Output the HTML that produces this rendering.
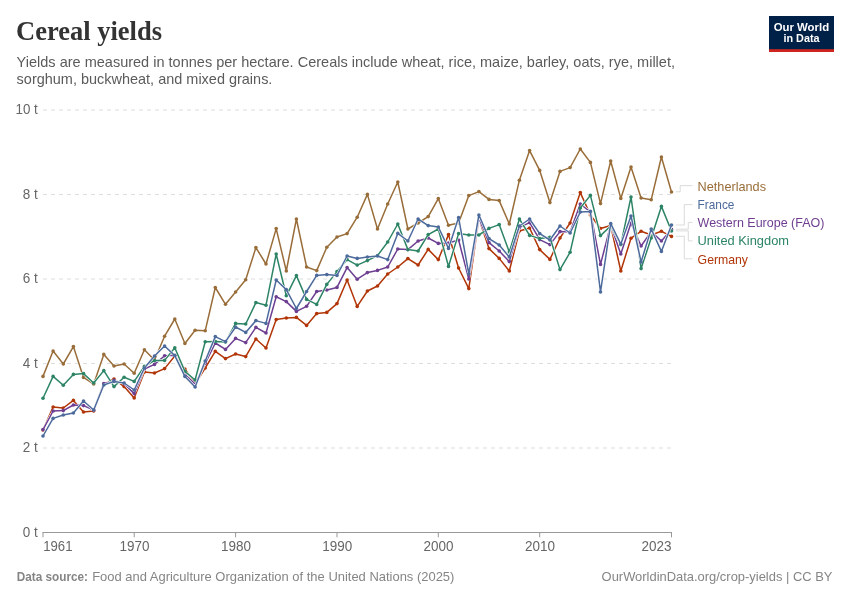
<!DOCTYPE html>
<html lang="en">
<head>
<meta charset="utf-8">
<title>Cereal yields</title>
<style>
html,body{margin:0;padding:0;background:#fff;}
body{width:850px;height:600px;overflow:hidden;}
svg{display:block;}
text{font-family:"Liberation Sans",Arial,sans-serif;}
.title{font-family:"Liberation Serif","Times New Roman",serif;font-weight:700;fill:#333;}
.sub{fill:#5b5b5b;font-size:14.3px;}
.ax{fill:#666;font-size:14.1px;}
.ft{fill:#858585;font-size:13.3px;}
.lg{font-size:13.4px;}
.grid line{stroke:#ddd;stroke-width:1;stroke-dasharray:4 4;}
.conn path{fill:none;stroke:#ccc;stroke-width:0.7;}
.ser polyline{fill:none;stroke-width:1.5;stroke-linejoin:round;stroke-linecap:round;}
</style>
</head>
<body>
<svg width="850" height="600" viewBox="0 0 850 600">
<rect x="0" y="0" width="850" height="600" fill="#ffffff"/>
<text class="title" x="16.0" y="40.3" font-size="27" textLength="146" lengthAdjust="spacingAndGlyphs">Cereal yields</text>
<text class="sub" x="16.6" y="66.8" textLength="658.4" lengthAdjust="spacingAndGlyphs">Yields are measured in tonnes per hectare. Cereals include wheat, rice, maize, barley, oats, rye, millet,</text>
<text class="sub" x="16.6" y="84.1" textLength="255.8" lengthAdjust="spacingAndGlyphs">sorghum, buckwheat, and mixed grains.</text>
<g>
<rect x="769" y="16" width="65" height="36" fill="#002147"/>
<rect x="769" y="49.2" width="65" height="2.8" fill="#ce261e"/>
<text x="801.4" y="30.8" font-size="11" font-weight="700" fill="#fff" text-anchor="middle" textLength="55.4" lengthAdjust="spacingAndGlyphs">Our World</text>
<text x="801.5" y="42.4" font-size="11" font-weight="700" fill="#fff" text-anchor="middle" textLength="36.1" lengthAdjust="spacingAndGlyphs">in Data</text>
</g>
<g class="grid">
<line x1="43" y1="448.0" x2="671.5" y2="448.0"/>
<line x1="43" y1="363.5" x2="671.5" y2="363.5"/>
<line x1="43" y1="279.0" x2="671.5" y2="279.0"/>
<line x1="43" y1="194.5" x2="671.5" y2="194.5"/>
<line x1="43" y1="110.0" x2="671.5" y2="110.0"/>
</g>
<text class="ax" x="22.8" y="536.7" textLength="15.0" lengthAdjust="spacingAndGlyphs">0 t</text>
<text class="ax" x="22.8" y="452.2" textLength="15.0" lengthAdjust="spacingAndGlyphs">2 t</text>
<text class="ax" x="22.8" y="367.7" textLength="15.0" lengthAdjust="spacingAndGlyphs">4 t</text>
<text class="ax" x="22.8" y="283.2" textLength="15.0" lengthAdjust="spacingAndGlyphs">6 t</text>
<text class="ax" x="22.8" y="198.7" textLength="15.0" lengthAdjust="spacingAndGlyphs">8 t</text>
<text class="ax" x="15.5" y="114.2" textLength="22.3" lengthAdjust="spacingAndGlyphs">10 t</text>
<g stroke="#999" stroke-width="1" fill="none"><line x1="42.5" y1="532.5" x2="672" y2="532.5"/>
<line x1="43.0" y1="532.5" x2="43.0" y2="537.3"/>
<line x1="134.2" y1="532.5" x2="134.2" y2="537.3"/>
<line x1="235.6" y1="532.5" x2="235.6" y2="537.3"/>
<line x1="337.0" y1="532.5" x2="337.0" y2="537.3"/>
<line x1="438.3" y1="532.5" x2="438.3" y2="537.3"/>
<line x1="539.7" y1="532.5" x2="539.7" y2="537.3"/>
<line x1="671.5" y1="532.5" x2="671.5" y2="537.3"/>
</g>
<text class="ax" x="43.2" y="550.5" textLength="29.3" lengthAdjust="spacingAndGlyphs">1961</text>
<text class="ax" x="119.5" y="550.5" textLength="30.0" lengthAdjust="spacingAndGlyphs">1970</text>
<text class="ax" x="220.9" y="550.5" textLength="30.0" lengthAdjust="spacingAndGlyphs">1980</text>
<text class="ax" x="322.3" y="550.5" textLength="30.0" lengthAdjust="spacingAndGlyphs">1990</text>
<text class="ax" x="423.6" y="550.5" textLength="30.0" lengthAdjust="spacingAndGlyphs">2000</text>
<text class="ax" x="525.0" y="550.5" textLength="30.0" lengthAdjust="spacingAndGlyphs">2010</text>
<text class="ax" x="641.6" y="550.5" textLength="30.0" lengthAdjust="spacingAndGlyphs">2023</text>
<g class="conn">
<path d="M675.8 191.8H680.2V185.6H692.5"/>
<path d="M675.8 225H684.3V204.6H692.5"/>
<path d="M675.8 229.2H688.3V222.4H692.5"/>
<path d="M675.8 230.9H688.3V240.9H692.5"/>
<path d="M675.8 236.3H684.3V258.8H692.5"/>
</g>
<g class="ser">
<polyline points="43.0,376.4 53.1,351.0 63.3,364.0 73.4,346.6 83.5,377.4 93.7,384.0 103.8,354.4 114.0,366.0 124.1,364.0 134.2,373.2 144.4,349.8 154.5,360.0 164.6,336.2 174.8,319.0 184.9,343.5 195.1,330.2 205.2,330.8 215.3,287.5 225.5,304.3 235.6,292.0 245.7,279.8 255.9,247.6 266.0,264.0 276.2,228.6 286.3,271.0 296.4,219.0 306.6,267.0 316.7,270.6 326.8,247.2 337.0,237.0 347.1,233.6 357.2,217.2 367.4,194.4 377.5,229.0 387.7,204.0 397.8,182.0 407.9,229.0 418.1,223.0 428.2,216.6 438.3,198.6 448.5,225.2 458.6,223.0 468.8,195.6 478.9,191.6 489.0,199.4 499.2,200.6 509.3,224.0 519.4,180.2 529.6,150.6 539.7,170.4 549.9,202.6 560.0,171.4 570.1,167.6 580.3,149.0 590.4,162.4 600.5,203.6 610.7,161.0 620.8,198.4 631.0,167.0 641.1,198.0 651.2,199.8 661.4,157.0 671.5,192.0" stroke="#fff" style="stroke-width:2.6"/>
<g stroke="#996D39" fill="#996D39"><polyline points="43.0,376.4 53.1,351.0 63.3,364.0 73.4,346.6 83.5,377.4 93.7,384.0 103.8,354.4 114.0,366.0 124.1,364.0 134.2,373.2 144.4,349.8 154.5,360.0 164.6,336.2 174.8,319.0 184.9,343.5 195.1,330.2 205.2,330.8 215.3,287.5 225.5,304.3 235.6,292.0 245.7,279.8 255.9,247.6 266.0,264.0 276.2,228.6 286.3,271.0 296.4,219.0 306.6,267.0 316.7,270.6 326.8,247.2 337.0,237.0 347.1,233.6 357.2,217.2 367.4,194.4 377.5,229.0 387.7,204.0 397.8,182.0 407.9,229.0 418.1,223.0 428.2,216.6 438.3,198.6 448.5,225.2 458.6,223.0 468.8,195.6 478.9,191.6 489.0,199.4 499.2,200.6 509.3,224.0 519.4,180.2 529.6,150.6 539.7,170.4 549.9,202.6 560.0,171.4 570.1,167.6 580.3,149.0 590.4,162.4 600.5,203.6 610.7,161.0 620.8,198.4 631.0,167.0 641.1,198.0 651.2,199.8 661.4,157.0 671.5,192.0"/>
<circle cx="43.0" cy="376.4" r="1.8" stroke="none"/><circle cx="53.1" cy="351.0" r="1.8" stroke="none"/><circle cx="63.3" cy="364.0" r="1.8" stroke="none"/><circle cx="73.4" cy="346.6" r="1.8" stroke="none"/><circle cx="83.5" cy="377.4" r="1.8" stroke="none"/><circle cx="93.7" cy="384.0" r="1.8" stroke="none"/><circle cx="103.8" cy="354.4" r="1.8" stroke="none"/><circle cx="114.0" cy="366.0" r="1.8" stroke="none"/><circle cx="124.1" cy="364.0" r="1.8" stroke="none"/><circle cx="134.2" cy="373.2" r="1.8" stroke="none"/><circle cx="144.4" cy="349.8" r="1.8" stroke="none"/><circle cx="154.5" cy="360.0" r="1.8" stroke="none"/><circle cx="164.6" cy="336.2" r="1.8" stroke="none"/><circle cx="174.8" cy="319.0" r="1.8" stroke="none"/><circle cx="184.9" cy="343.5" r="1.8" stroke="none"/><circle cx="195.1" cy="330.2" r="1.8" stroke="none"/><circle cx="205.2" cy="330.8" r="1.8" stroke="none"/><circle cx="215.3" cy="287.5" r="1.8" stroke="none"/><circle cx="225.5" cy="304.3" r="1.8" stroke="none"/><circle cx="235.6" cy="292.0" r="1.8" stroke="none"/><circle cx="245.7" cy="279.8" r="1.8" stroke="none"/><circle cx="255.9" cy="247.6" r="1.8" stroke="none"/><circle cx="266.0" cy="264.0" r="1.8" stroke="none"/><circle cx="276.2" cy="228.6" r="1.8" stroke="none"/><circle cx="286.3" cy="271.0" r="1.8" stroke="none"/><circle cx="296.4" cy="219.0" r="1.8" stroke="none"/><circle cx="306.6" cy="267.0" r="1.8" stroke="none"/><circle cx="316.7" cy="270.6" r="1.8" stroke="none"/><circle cx="326.8" cy="247.2" r="1.8" stroke="none"/><circle cx="337.0" cy="237.0" r="1.8" stroke="none"/><circle cx="347.1" cy="233.6" r="1.8" stroke="none"/><circle cx="357.2" cy="217.2" r="1.8" stroke="none"/><circle cx="367.4" cy="194.4" r="1.8" stroke="none"/><circle cx="377.5" cy="229.0" r="1.8" stroke="none"/><circle cx="387.7" cy="204.0" r="1.8" stroke="none"/><circle cx="397.8" cy="182.0" r="1.8" stroke="none"/><circle cx="407.9" cy="229.0" r="1.8" stroke="none"/><circle cx="418.1" cy="223.0" r="1.8" stroke="none"/><circle cx="428.2" cy="216.6" r="1.8" stroke="none"/><circle cx="438.3" cy="198.6" r="1.8" stroke="none"/><circle cx="448.5" cy="225.2" r="1.8" stroke="none"/><circle cx="458.6" cy="223.0" r="1.8" stroke="none"/><circle cx="468.8" cy="195.6" r="1.8" stroke="none"/><circle cx="478.9" cy="191.6" r="1.8" stroke="none"/><circle cx="489.0" cy="199.4" r="1.8" stroke="none"/><circle cx="499.2" cy="200.6" r="1.8" stroke="none"/><circle cx="509.3" cy="224.0" r="1.8" stroke="none"/><circle cx="519.4" cy="180.2" r="1.8" stroke="none"/><circle cx="529.6" cy="150.6" r="1.8" stroke="none"/><circle cx="539.7" cy="170.4" r="1.8" stroke="none"/><circle cx="549.9" cy="202.6" r="1.8" stroke="none"/><circle cx="560.0" cy="171.4" r="1.8" stroke="none"/><circle cx="570.1" cy="167.6" r="1.8" stroke="none"/><circle cx="580.3" cy="149.0" r="1.8" stroke="none"/><circle cx="590.4" cy="162.4" r="1.8" stroke="none"/><circle cx="600.5" cy="203.6" r="1.8" stroke="none"/><circle cx="610.7" cy="161.0" r="1.8" stroke="none"/><circle cx="620.8" cy="198.4" r="1.8" stroke="none"/><circle cx="631.0" cy="167.0" r="1.8" stroke="none"/><circle cx="641.1" cy="198.0" r="1.8" stroke="none"/><circle cx="651.2" cy="199.8" r="1.8" stroke="none"/><circle cx="661.4" cy="157.0" r="1.8" stroke="none"/><circle cx="671.5" cy="192.0" r="1.8" stroke="none"/></g>
<polyline points="43.0,430.0 53.1,407.0 63.3,408.0 73.4,400.4 83.5,412.0 93.7,411.0 103.8,384.0 114.0,379.0 124.1,386.6 134.2,398.0 144.4,372.0 154.5,373.0 164.6,368.6 174.8,356.0 184.9,369.0 195.1,384.0 205.2,368.0 215.3,351.4 225.5,358.6 235.6,354.0 245.7,356.6 255.9,339.0 266.0,348.0 276.2,319.6 286.3,318.0 296.4,317.4 306.6,325.4 316.7,313.6 326.8,312.4 337.0,303.6 347.1,280.0 357.2,306.4 367.4,291.0 377.5,286.0 387.7,274.0 397.8,267.0 407.9,258.6 418.1,265.0 428.2,249.4 438.3,259.6 448.5,234.6 458.6,268.0 468.8,288.6 478.9,218.6 489.0,248.6 499.2,258.4 509.3,271.0 519.4,231.0 529.6,228.0 539.7,249.6 549.9,259.4 560.0,238.0 570.1,223.0 580.3,192.6 590.4,215.0 600.5,228.5 610.7,225.5 620.8,271.0 631.0,238.2 641.1,231.3 651.2,235.0 661.4,231.3 671.5,236.4" stroke="#fff" style="stroke-width:2.6"/>
<g stroke="#B13507" fill="#B13507"><polyline points="43.0,430.0 53.1,407.0 63.3,408.0 73.4,400.4 83.5,412.0 93.7,411.0 103.8,384.0 114.0,379.0 124.1,386.6 134.2,398.0 144.4,372.0 154.5,373.0 164.6,368.6 174.8,356.0 184.9,369.0 195.1,384.0 205.2,368.0 215.3,351.4 225.5,358.6 235.6,354.0 245.7,356.6 255.9,339.0 266.0,348.0 276.2,319.6 286.3,318.0 296.4,317.4 306.6,325.4 316.7,313.6 326.8,312.4 337.0,303.6 347.1,280.0 357.2,306.4 367.4,291.0 377.5,286.0 387.7,274.0 397.8,267.0 407.9,258.6 418.1,265.0 428.2,249.4 438.3,259.6 448.5,234.6 458.6,268.0 468.8,288.6 478.9,218.6 489.0,248.6 499.2,258.4 509.3,271.0 519.4,231.0 529.6,228.0 539.7,249.6 549.9,259.4 560.0,238.0 570.1,223.0 580.3,192.6 590.4,215.0 600.5,228.5 610.7,225.5 620.8,271.0 631.0,238.2 641.1,231.3 651.2,235.0 661.4,231.3 671.5,236.4"/>
<circle cx="43.0" cy="430.0" r="1.8" stroke="none"/><circle cx="53.1" cy="407.0" r="1.8" stroke="none"/><circle cx="63.3" cy="408.0" r="1.8" stroke="none"/><circle cx="73.4" cy="400.4" r="1.8" stroke="none"/><circle cx="83.5" cy="412.0" r="1.8" stroke="none"/><circle cx="93.7" cy="411.0" r="1.8" stroke="none"/><circle cx="103.8" cy="384.0" r="1.8" stroke="none"/><circle cx="114.0" cy="379.0" r="1.8" stroke="none"/><circle cx="124.1" cy="386.6" r="1.8" stroke="none"/><circle cx="134.2" cy="398.0" r="1.8" stroke="none"/><circle cx="144.4" cy="372.0" r="1.8" stroke="none"/><circle cx="154.5" cy="373.0" r="1.8" stroke="none"/><circle cx="164.6" cy="368.6" r="1.8" stroke="none"/><circle cx="174.8" cy="356.0" r="1.8" stroke="none"/><circle cx="184.9" cy="369.0" r="1.8" stroke="none"/><circle cx="195.1" cy="384.0" r="1.8" stroke="none"/><circle cx="205.2" cy="368.0" r="1.8" stroke="none"/><circle cx="215.3" cy="351.4" r="1.8" stroke="none"/><circle cx="225.5" cy="358.6" r="1.8" stroke="none"/><circle cx="235.6" cy="354.0" r="1.8" stroke="none"/><circle cx="245.7" cy="356.6" r="1.8" stroke="none"/><circle cx="255.9" cy="339.0" r="1.8" stroke="none"/><circle cx="266.0" cy="348.0" r="1.8" stroke="none"/><circle cx="276.2" cy="319.6" r="1.8" stroke="none"/><circle cx="286.3" cy="318.0" r="1.8" stroke="none"/><circle cx="296.4" cy="317.4" r="1.8" stroke="none"/><circle cx="306.6" cy="325.4" r="1.8" stroke="none"/><circle cx="316.7" cy="313.6" r="1.8" stroke="none"/><circle cx="326.8" cy="312.4" r="1.8" stroke="none"/><circle cx="337.0" cy="303.6" r="1.8" stroke="none"/><circle cx="347.1" cy="280.0" r="1.8" stroke="none"/><circle cx="357.2" cy="306.4" r="1.8" stroke="none"/><circle cx="367.4" cy="291.0" r="1.8" stroke="none"/><circle cx="377.5" cy="286.0" r="1.8" stroke="none"/><circle cx="387.7" cy="274.0" r="1.8" stroke="none"/><circle cx="397.8" cy="267.0" r="1.8" stroke="none"/><circle cx="407.9" cy="258.6" r="1.8" stroke="none"/><circle cx="418.1" cy="265.0" r="1.8" stroke="none"/><circle cx="428.2" cy="249.4" r="1.8" stroke="none"/><circle cx="438.3" cy="259.6" r="1.8" stroke="none"/><circle cx="448.5" cy="234.6" r="1.8" stroke="none"/><circle cx="458.6" cy="268.0" r="1.8" stroke="none"/><circle cx="468.8" cy="288.6" r="1.8" stroke="none"/><circle cx="478.9" cy="218.6" r="1.8" stroke="none"/><circle cx="489.0" cy="248.6" r="1.8" stroke="none"/><circle cx="499.2" cy="258.4" r="1.8" stroke="none"/><circle cx="509.3" cy="271.0" r="1.8" stroke="none"/><circle cx="519.4" cy="231.0" r="1.8" stroke="none"/><circle cx="529.6" cy="228.0" r="1.8" stroke="none"/><circle cx="539.7" cy="249.6" r="1.8" stroke="none"/><circle cx="549.9" cy="259.4" r="1.8" stroke="none"/><circle cx="560.0" cy="238.0" r="1.8" stroke="none"/><circle cx="570.1" cy="223.0" r="1.8" stroke="none"/><circle cx="580.3" cy="192.6" r="1.8" stroke="none"/><circle cx="590.4" cy="215.0" r="1.8" stroke="none"/><circle cx="600.5" cy="228.5" r="1.8" stroke="none"/><circle cx="610.7" cy="225.5" r="1.8" stroke="none"/><circle cx="620.8" cy="271.0" r="1.8" stroke="none"/><circle cx="631.0" cy="238.2" r="1.8" stroke="none"/><circle cx="641.1" cy="231.3" r="1.8" stroke="none"/><circle cx="651.2" cy="235.0" r="1.8" stroke="none"/><circle cx="661.4" cy="231.3" r="1.8" stroke="none"/><circle cx="671.5" cy="236.4" r="1.8" stroke="none"/></g>
<polyline points="43.0,429.6 53.1,411.0 63.3,410.6 73.4,405.0 83.5,405.6 93.7,410.0 103.8,383.6 114.0,380.4 124.1,383.6 134.2,393.6 144.4,369.0 154.5,364.4 164.6,355.8 174.8,355.2 184.9,374.4 195.1,384.4 205.2,363.5 215.3,343.0 225.5,349.4 235.6,338.4 245.7,342.6 255.9,327.4 266.0,333.0 276.2,296.8 286.3,301.6 296.4,311.4 306.6,306.3 316.7,291.5 326.8,290.0 337.0,287.4 347.1,267.6 357.2,279.2 367.4,272.6 377.5,270.4 387.7,267.0 397.8,249.0 407.9,249.6 418.1,241.0 428.2,238.0 438.3,243.4 448.5,243.0 458.6,240.0 468.8,279.0 478.9,218.0 489.0,242.6 499.2,251.0 509.3,261.6 519.4,227.4 529.6,222.6 539.7,239.6 549.9,244.6 560.0,231.6 570.1,232.0 580.3,204.0 590.4,212.0 600.5,264.4 610.7,225.0 620.8,254.0 631.0,223.0 641.1,246.0 651.2,231.6 661.4,241.0 671.5,229.4" stroke="#fff" style="stroke-width:2.6"/>
<g stroke="#6D3E91" fill="#6D3E91"><polyline points="43.0,429.6 53.1,411.0 63.3,410.6 73.4,405.0 83.5,405.6 93.7,410.0 103.8,383.6 114.0,380.4 124.1,383.6 134.2,393.6 144.4,369.0 154.5,364.4 164.6,355.8 174.8,355.2 184.9,374.4 195.1,384.4 205.2,363.5 215.3,343.0 225.5,349.4 235.6,338.4 245.7,342.6 255.9,327.4 266.0,333.0 276.2,296.8 286.3,301.6 296.4,311.4 306.6,306.3 316.7,291.5 326.8,290.0 337.0,287.4 347.1,267.6 357.2,279.2 367.4,272.6 377.5,270.4 387.7,267.0 397.8,249.0 407.9,249.6 418.1,241.0 428.2,238.0 438.3,243.4 448.5,243.0 458.6,240.0 468.8,279.0 478.9,218.0 489.0,242.6 499.2,251.0 509.3,261.6 519.4,227.4 529.6,222.6 539.7,239.6 549.9,244.6 560.0,231.6 570.1,232.0 580.3,204.0 590.4,212.0 600.5,264.4 610.7,225.0 620.8,254.0 631.0,223.0 641.1,246.0 651.2,231.6 661.4,241.0 671.5,229.4"/>
<circle cx="43.0" cy="429.6" r="1.8" stroke="none"/><circle cx="53.1" cy="411.0" r="1.8" stroke="none"/><circle cx="63.3" cy="410.6" r="1.8" stroke="none"/><circle cx="73.4" cy="405.0" r="1.8" stroke="none"/><circle cx="83.5" cy="405.6" r="1.8" stroke="none"/><circle cx="93.7" cy="410.0" r="1.8" stroke="none"/><circle cx="103.8" cy="383.6" r="1.8" stroke="none"/><circle cx="114.0" cy="380.4" r="1.8" stroke="none"/><circle cx="124.1" cy="383.6" r="1.8" stroke="none"/><circle cx="134.2" cy="393.6" r="1.8" stroke="none"/><circle cx="144.4" cy="369.0" r="1.8" stroke="none"/><circle cx="154.5" cy="364.4" r="1.8" stroke="none"/><circle cx="164.6" cy="355.8" r="1.8" stroke="none"/><circle cx="174.8" cy="355.2" r="1.8" stroke="none"/><circle cx="184.9" cy="374.4" r="1.8" stroke="none"/><circle cx="195.1" cy="384.4" r="1.8" stroke="none"/><circle cx="205.2" cy="363.5" r="1.8" stroke="none"/><circle cx="215.3" cy="343.0" r="1.8" stroke="none"/><circle cx="225.5" cy="349.4" r="1.8" stroke="none"/><circle cx="235.6" cy="338.4" r="1.8" stroke="none"/><circle cx="245.7" cy="342.6" r="1.8" stroke="none"/><circle cx="255.9" cy="327.4" r="1.8" stroke="none"/><circle cx="266.0" cy="333.0" r="1.8" stroke="none"/><circle cx="276.2" cy="296.8" r="1.8" stroke="none"/><circle cx="286.3" cy="301.6" r="1.8" stroke="none"/><circle cx="296.4" cy="311.4" r="1.8" stroke="none"/><circle cx="306.6" cy="306.3" r="1.8" stroke="none"/><circle cx="316.7" cy="291.5" r="1.8" stroke="none"/><circle cx="326.8" cy="290.0" r="1.8" stroke="none"/><circle cx="337.0" cy="287.4" r="1.8" stroke="none"/><circle cx="347.1" cy="267.6" r="1.8" stroke="none"/><circle cx="357.2" cy="279.2" r="1.8" stroke="none"/><circle cx="367.4" cy="272.6" r="1.8" stroke="none"/><circle cx="377.5" cy="270.4" r="1.8" stroke="none"/><circle cx="387.7" cy="267.0" r="1.8" stroke="none"/><circle cx="397.8" cy="249.0" r="1.8" stroke="none"/><circle cx="407.9" cy="249.6" r="1.8" stroke="none"/><circle cx="418.1" cy="241.0" r="1.8" stroke="none"/><circle cx="428.2" cy="238.0" r="1.8" stroke="none"/><circle cx="438.3" cy="243.4" r="1.8" stroke="none"/><circle cx="448.5" cy="243.0" r="1.8" stroke="none"/><circle cx="458.6" cy="240.0" r="1.8" stroke="none"/><circle cx="468.8" cy="279.0" r="1.8" stroke="none"/><circle cx="478.9" cy="218.0" r="1.8" stroke="none"/><circle cx="489.0" cy="242.6" r="1.8" stroke="none"/><circle cx="499.2" cy="251.0" r="1.8" stroke="none"/><circle cx="509.3" cy="261.6" r="1.8" stroke="none"/><circle cx="519.4" cy="227.4" r="1.8" stroke="none"/><circle cx="529.6" cy="222.6" r="1.8" stroke="none"/><circle cx="539.7" cy="239.6" r="1.8" stroke="none"/><circle cx="549.9" cy="244.6" r="1.8" stroke="none"/><circle cx="560.0" cy="231.6" r="1.8" stroke="none"/><circle cx="570.1" cy="232.0" r="1.8" stroke="none"/><circle cx="580.3" cy="204.0" r="1.8" stroke="none"/><circle cx="590.4" cy="212.0" r="1.8" stroke="none"/><circle cx="600.5" cy="264.4" r="1.8" stroke="none"/><circle cx="610.7" cy="225.0" r="1.8" stroke="none"/><circle cx="620.8" cy="254.0" r="1.8" stroke="none"/><circle cx="631.0" cy="223.0" r="1.8" stroke="none"/><circle cx="641.1" cy="246.0" r="1.8" stroke="none"/><circle cx="651.2" cy="231.6" r="1.8" stroke="none"/><circle cx="661.4" cy="241.0" r="1.8" stroke="none"/><circle cx="671.5" cy="229.4" r="1.8" stroke="none"/></g>
<polyline points="43.0,398.2 53.1,376.4 63.3,385.2 73.4,374.4 83.5,373.6 93.7,383.0 103.8,370.6 114.0,386.6 124.1,377.2 134.2,381.4 144.4,366.4 154.5,360.5 164.6,360.4 174.8,347.8 184.9,371.4 195.1,380.0 205.2,341.8 215.3,341.4 225.5,342.0 235.6,323.4 245.7,324.0 255.9,302.6 266.0,305.2 276.2,254.0 286.3,295.8 296.4,275.6 306.6,299.4 316.7,304.4 326.8,284.4 337.0,271.6 347.1,259.6 357.2,265.1 367.4,260.6 377.5,255.6 387.7,242.0 397.8,224.0 407.9,249.6 418.1,251.0 428.2,234.6 438.3,229.0 448.5,266.4 458.6,233.6 468.8,235.0 478.9,235.0 489.0,228.4 499.2,224.6 509.3,252.0 519.4,219.0 529.6,235.4 539.7,238.6 549.9,237.2 560.0,269.6 570.1,252.3 580.3,208.0 590.4,195.4 600.5,235.6 610.7,226.0 620.8,244.6 631.0,197.0 641.1,268.6 651.2,238.0 661.4,206.4 671.5,231.0" stroke="#fff" style="stroke-width:2.6"/>
<g stroke="#2C8465" fill="#2C8465"><polyline points="43.0,398.2 53.1,376.4 63.3,385.2 73.4,374.4 83.5,373.6 93.7,383.0 103.8,370.6 114.0,386.6 124.1,377.2 134.2,381.4 144.4,366.4 154.5,360.5 164.6,360.4 174.8,347.8 184.9,371.4 195.1,380.0 205.2,341.8 215.3,341.4 225.5,342.0 235.6,323.4 245.7,324.0 255.9,302.6 266.0,305.2 276.2,254.0 286.3,295.8 296.4,275.6 306.6,299.4 316.7,304.4 326.8,284.4 337.0,271.6 347.1,259.6 357.2,265.1 367.4,260.6 377.5,255.6 387.7,242.0 397.8,224.0 407.9,249.6 418.1,251.0 428.2,234.6 438.3,229.0 448.5,266.4 458.6,233.6 468.8,235.0 478.9,235.0 489.0,228.4 499.2,224.6 509.3,252.0 519.4,219.0 529.6,235.4 539.7,238.6 549.9,237.2 560.0,269.6 570.1,252.3 580.3,208.0 590.4,195.4 600.5,235.6 610.7,226.0 620.8,244.6 631.0,197.0 641.1,268.6 651.2,238.0 661.4,206.4 671.5,231.0"/>
<circle cx="43.0" cy="398.2" r="1.8" stroke="none"/><circle cx="53.1" cy="376.4" r="1.8" stroke="none"/><circle cx="63.3" cy="385.2" r="1.8" stroke="none"/><circle cx="73.4" cy="374.4" r="1.8" stroke="none"/><circle cx="83.5" cy="373.6" r="1.8" stroke="none"/><circle cx="93.7" cy="383.0" r="1.8" stroke="none"/><circle cx="103.8" cy="370.6" r="1.8" stroke="none"/><circle cx="114.0" cy="386.6" r="1.8" stroke="none"/><circle cx="124.1" cy="377.2" r="1.8" stroke="none"/><circle cx="134.2" cy="381.4" r="1.8" stroke="none"/><circle cx="144.4" cy="366.4" r="1.8" stroke="none"/><circle cx="154.5" cy="360.5" r="1.8" stroke="none"/><circle cx="164.6" cy="360.4" r="1.8" stroke="none"/><circle cx="174.8" cy="347.8" r="1.8" stroke="none"/><circle cx="184.9" cy="371.4" r="1.8" stroke="none"/><circle cx="195.1" cy="380.0" r="1.8" stroke="none"/><circle cx="205.2" cy="341.8" r="1.8" stroke="none"/><circle cx="215.3" cy="341.4" r="1.8" stroke="none"/><circle cx="225.5" cy="342.0" r="1.8" stroke="none"/><circle cx="235.6" cy="323.4" r="1.8" stroke="none"/><circle cx="245.7" cy="324.0" r="1.8" stroke="none"/><circle cx="255.9" cy="302.6" r="1.8" stroke="none"/><circle cx="266.0" cy="305.2" r="1.8" stroke="none"/><circle cx="276.2" cy="254.0" r="1.8" stroke="none"/><circle cx="286.3" cy="295.8" r="1.8" stroke="none"/><circle cx="296.4" cy="275.6" r="1.8" stroke="none"/><circle cx="306.6" cy="299.4" r="1.8" stroke="none"/><circle cx="316.7" cy="304.4" r="1.8" stroke="none"/><circle cx="326.8" cy="284.4" r="1.8" stroke="none"/><circle cx="337.0" cy="271.6" r="1.8" stroke="none"/><circle cx="347.1" cy="259.6" r="1.8" stroke="none"/><circle cx="357.2" cy="265.1" r="1.8" stroke="none"/><circle cx="367.4" cy="260.6" r="1.8" stroke="none"/><circle cx="377.5" cy="255.6" r="1.8" stroke="none"/><circle cx="387.7" cy="242.0" r="1.8" stroke="none"/><circle cx="397.8" cy="224.0" r="1.8" stroke="none"/><circle cx="407.9" cy="249.6" r="1.8" stroke="none"/><circle cx="418.1" cy="251.0" r="1.8" stroke="none"/><circle cx="428.2" cy="234.6" r="1.8" stroke="none"/><circle cx="438.3" cy="229.0" r="1.8" stroke="none"/><circle cx="448.5" cy="266.4" r="1.8" stroke="none"/><circle cx="458.6" cy="233.6" r="1.8" stroke="none"/><circle cx="468.8" cy="235.0" r="1.8" stroke="none"/><circle cx="478.9" cy="235.0" r="1.8" stroke="none"/><circle cx="489.0" cy="228.4" r="1.8" stroke="none"/><circle cx="499.2" cy="224.6" r="1.8" stroke="none"/><circle cx="509.3" cy="252.0" r="1.8" stroke="none"/><circle cx="519.4" cy="219.0" r="1.8" stroke="none"/><circle cx="529.6" cy="235.4" r="1.8" stroke="none"/><circle cx="539.7" cy="238.6" r="1.8" stroke="none"/><circle cx="549.9" cy="237.2" r="1.8" stroke="none"/><circle cx="560.0" cy="269.6" r="1.8" stroke="none"/><circle cx="570.1" cy="252.3" r="1.8" stroke="none"/><circle cx="580.3" cy="208.0" r="1.8" stroke="none"/><circle cx="590.4" cy="195.4" r="1.8" stroke="none"/><circle cx="600.5" cy="235.6" r="1.8" stroke="none"/><circle cx="610.7" cy="226.0" r="1.8" stroke="none"/><circle cx="620.8" cy="244.6" r="1.8" stroke="none"/><circle cx="631.0" cy="197.0" r="1.8" stroke="none"/><circle cx="641.1" cy="268.6" r="1.8" stroke="none"/><circle cx="651.2" cy="238.0" r="1.8" stroke="none"/><circle cx="661.4" cy="206.4" r="1.8" stroke="none"/><circle cx="671.5" cy="231.0" r="1.8" stroke="none"/></g>
<polyline points="43.0,436.0 53.1,418.4 63.3,415.0 73.4,413.0 83.5,401.0 93.7,410.0 103.8,385.0 114.0,381.4 124.1,383.0 134.2,390.0 144.4,368.0 154.5,356.0 164.6,346.0 174.8,355.6 184.9,376.4 195.1,387.0 205.2,361.0 215.3,336.6 225.5,341.6 235.6,327.0 245.7,332.4 255.9,320.6 266.0,323.4 276.2,280.0 286.3,289.6 296.4,308.5 306.6,291.5 316.7,275.4 326.8,274.6 337.0,275.4 347.1,256.0 357.2,258.4 367.4,257.0 377.5,256.0 387.7,259.6 397.8,233.4 407.9,241.0 418.1,219.0 428.2,225.6 438.3,227.0 448.5,248.4 458.6,217.6 468.8,274.0 478.9,215.0 489.0,238.6 499.2,245.0 509.3,257.0 519.4,226.0 529.6,219.0 539.7,233.6 549.9,240.0 560.0,226.0 570.1,233.0 580.3,212.0 590.4,211.4 600.5,292.0 610.7,223.6 620.8,244.0 631.0,216.0 641.1,262.0 651.2,229.0 661.4,251.4 671.5,225.0" stroke="#fff" style="stroke-width:2.6"/>
<g stroke="#4C6A9C" fill="#4C6A9C"><polyline points="43.0,436.0 53.1,418.4 63.3,415.0 73.4,413.0 83.5,401.0 93.7,410.0 103.8,385.0 114.0,381.4 124.1,383.0 134.2,390.0 144.4,368.0 154.5,356.0 164.6,346.0 174.8,355.6 184.9,376.4 195.1,387.0 205.2,361.0 215.3,336.6 225.5,341.6 235.6,327.0 245.7,332.4 255.9,320.6 266.0,323.4 276.2,280.0 286.3,289.6 296.4,308.5 306.6,291.5 316.7,275.4 326.8,274.6 337.0,275.4 347.1,256.0 357.2,258.4 367.4,257.0 377.5,256.0 387.7,259.6 397.8,233.4 407.9,241.0 418.1,219.0 428.2,225.6 438.3,227.0 448.5,248.4 458.6,217.6 468.8,274.0 478.9,215.0 489.0,238.6 499.2,245.0 509.3,257.0 519.4,226.0 529.6,219.0 539.7,233.6 549.9,240.0 560.0,226.0 570.1,233.0 580.3,212.0 590.4,211.4 600.5,292.0 610.7,223.6 620.8,244.0 631.0,216.0 641.1,262.0 651.2,229.0 661.4,251.4 671.5,225.0"/>
<circle cx="43.0" cy="436.0" r="1.8" stroke="none"/><circle cx="53.1" cy="418.4" r="1.8" stroke="none"/><circle cx="63.3" cy="415.0" r="1.8" stroke="none"/><circle cx="73.4" cy="413.0" r="1.8" stroke="none"/><circle cx="83.5" cy="401.0" r="1.8" stroke="none"/><circle cx="93.7" cy="410.0" r="1.8" stroke="none"/><circle cx="103.8" cy="385.0" r="1.8" stroke="none"/><circle cx="114.0" cy="381.4" r="1.8" stroke="none"/><circle cx="124.1" cy="383.0" r="1.8" stroke="none"/><circle cx="134.2" cy="390.0" r="1.8" stroke="none"/><circle cx="144.4" cy="368.0" r="1.8" stroke="none"/><circle cx="154.5" cy="356.0" r="1.8" stroke="none"/><circle cx="164.6" cy="346.0" r="1.8" stroke="none"/><circle cx="174.8" cy="355.6" r="1.8" stroke="none"/><circle cx="184.9" cy="376.4" r="1.8" stroke="none"/><circle cx="195.1" cy="387.0" r="1.8" stroke="none"/><circle cx="205.2" cy="361.0" r="1.8" stroke="none"/><circle cx="215.3" cy="336.6" r="1.8" stroke="none"/><circle cx="225.5" cy="341.6" r="1.8" stroke="none"/><circle cx="235.6" cy="327.0" r="1.8" stroke="none"/><circle cx="245.7" cy="332.4" r="1.8" stroke="none"/><circle cx="255.9" cy="320.6" r="1.8" stroke="none"/><circle cx="266.0" cy="323.4" r="1.8" stroke="none"/><circle cx="276.2" cy="280.0" r="1.8" stroke="none"/><circle cx="286.3" cy="289.6" r="1.8" stroke="none"/><circle cx="296.4" cy="308.5" r="1.8" stroke="none"/><circle cx="306.6" cy="291.5" r="1.8" stroke="none"/><circle cx="316.7" cy="275.4" r="1.8" stroke="none"/><circle cx="326.8" cy="274.6" r="1.8" stroke="none"/><circle cx="337.0" cy="275.4" r="1.8" stroke="none"/><circle cx="347.1" cy="256.0" r="1.8" stroke="none"/><circle cx="357.2" cy="258.4" r="1.8" stroke="none"/><circle cx="367.4" cy="257.0" r="1.8" stroke="none"/><circle cx="377.5" cy="256.0" r="1.8" stroke="none"/><circle cx="387.7" cy="259.6" r="1.8" stroke="none"/><circle cx="397.8" cy="233.4" r="1.8" stroke="none"/><circle cx="407.9" cy="241.0" r="1.8" stroke="none"/><circle cx="418.1" cy="219.0" r="1.8" stroke="none"/><circle cx="428.2" cy="225.6" r="1.8" stroke="none"/><circle cx="438.3" cy="227.0" r="1.8" stroke="none"/><circle cx="448.5" cy="248.4" r="1.8" stroke="none"/><circle cx="458.6" cy="217.6" r="1.8" stroke="none"/><circle cx="468.8" cy="274.0" r="1.8" stroke="none"/><circle cx="478.9" cy="215.0" r="1.8" stroke="none"/><circle cx="489.0" cy="238.6" r="1.8" stroke="none"/><circle cx="499.2" cy="245.0" r="1.8" stroke="none"/><circle cx="509.3" cy="257.0" r="1.8" stroke="none"/><circle cx="519.4" cy="226.0" r="1.8" stroke="none"/><circle cx="529.6" cy="219.0" r="1.8" stroke="none"/><circle cx="539.7" cy="233.6" r="1.8" stroke="none"/><circle cx="549.9" cy="240.0" r="1.8" stroke="none"/><circle cx="560.0" cy="226.0" r="1.8" stroke="none"/><circle cx="570.1" cy="233.0" r="1.8" stroke="none"/><circle cx="580.3" cy="212.0" r="1.8" stroke="none"/><circle cx="590.4" cy="211.4" r="1.8" stroke="none"/><circle cx="600.5" cy="292.0" r="1.8" stroke="none"/><circle cx="610.7" cy="223.6" r="1.8" stroke="none"/><circle cx="620.8" cy="244.0" r="1.8" stroke="none"/><circle cx="631.0" cy="216.0" r="1.8" stroke="none"/><circle cx="641.1" cy="262.0" r="1.8" stroke="none"/><circle cx="651.2" cy="229.0" r="1.8" stroke="none"/><circle cx="661.4" cy="251.4" r="1.8" stroke="none"/><circle cx="671.5" cy="225.0" r="1.8" stroke="none"/></g>
</g>
<text class="lg" x="697.6" y="191" fill="#996D39" textLength="68.4" lengthAdjust="spacingAndGlyphs">Netherlands</text>
<text class="lg" x="697.6" y="209.1" fill="#4C6A9C" textLength="36.8" lengthAdjust="spacingAndGlyphs">France</text>
<text class="lg" x="697.6" y="227.2" fill="#6D3E91" textLength="126.8" lengthAdjust="spacingAndGlyphs">Western Europe (FAO)</text>
<text class="lg" x="697.6" y="245.4" fill="#2C8465" textLength="91.4" lengthAdjust="spacingAndGlyphs">United Kingdom</text>
<text class="lg" x="697.6" y="263.6" fill="#B13507" textLength="50.4" lengthAdjust="spacingAndGlyphs">Germany</text>
<text class="ft" x="16.8" y="580.8" font-weight="700" textLength="71.2" lengthAdjust="spacingAndGlyphs">Data source:</text>
<text class="ft" x="92.2" y="580.8" textLength="362.2" lengthAdjust="spacingAndGlyphs">Food and Agriculture Organization of the United Nations (2025)</text>
<text class="ft" x="601.6" y="580.8" textLength="230.8" lengthAdjust="spacingAndGlyphs">OurWorldinData.org/crop-yields | CC BY</text>
</svg>
</body>
</html>
